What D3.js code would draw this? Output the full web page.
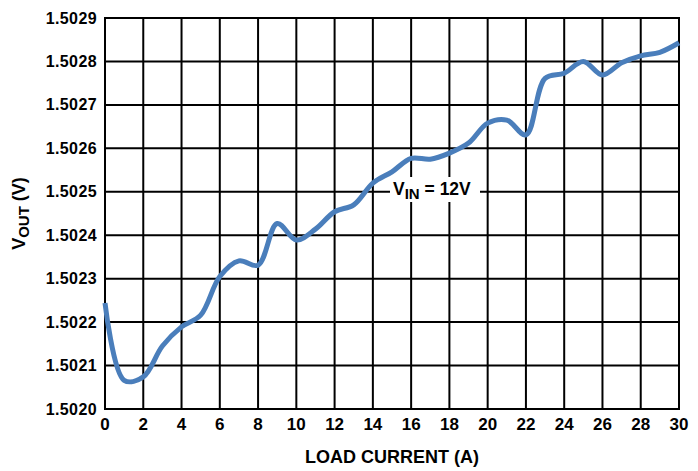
<!DOCTYPE html>
<html>
<head>
<meta charset="utf-8">
<script src="https://cdn.jsdelivr.net/npm/d3@7"></script>
<style>
  html, body { margin: 0; padding: 0; background: #fff; }
  svg { display: block; }
  text { font-family: "Liberation Sans", Arial, Helvetica, sans-serif; font-weight: bold; fill: #000; }
</style>
</head>
<body>
<svg id="chart" width="698" height="471"></svg>
<script>
const loadCurrent = [0,1,2,3,4,5,6,7,8,9,10,11,12,13,14,15,16,17,18,19,20,21,22,23,24,25,26,27,28,29,30];
const vout = [1.502244,1.502066,1.502074,1.502145,1.502189,1.502216,1.502305,1.502341,1.502331,1.502427,
              1.502389,1.502414,1.502454,1.502470,1.502520,1.502546,1.502577,1.502575,1.502589,1.502612,
              1.502658,1.502665,1.502631,1.502761,1.502773,1.502800,1.502769,1.502797,1.502813,1.502821,1.502843];
const xTicks = [0,2,4,6,8,10,12,14,16,18,20,22,24,26,28,30];
const yTicks = [1.5020,1.5021,1.5022,1.5023,1.5024,1.5025,1.5026,1.5027,1.5028,1.5029];
const xTitle = "LOAD CURRENT (A)";
const annotation = "= 12V";

(function () {
const svg = d3.select("#chart");
const pL = 105, pR = 679, pT = 18, pB = 409;
const x = d3.scaleLinear().domain([0, 30]).range([pL, pR]);
const y = d3.scaleLinear().domain([1.5020, 1.5029]).range([pB, pT]);

// gridlines
const g = svg.append("g");
g.selectAll(".vg").data(xTicks).join("line")
  .attr("x1", d => x(d)).attr("x2", d => x(d))
  .attr("y1", pT).attr("y2", pB)
  .attr("stroke", "#000").attr("stroke-width", 2);
g.selectAll(".hg").data(yTicks).join("line")
  .attr("x1", pL).attr("x2", pR)
  .attr("y1", d => y(d)).attr("y2", d => y(d))
  .attr("stroke", "#000").attr("stroke-width", 2);
svg.append("rect").attr("x", pL).attr("y", pT)
  .attr("width", pR - pL).attr("height", pB - pT)
  .attr("fill", "none").attr("stroke", "#000").attr("stroke-width", 2);

// tick labels
svg.selectAll(".yl").data(yTicks).join("text")
  .attr("x", pL - 8).attr("y", d => y(d)).attr("dy", "0.35em")
  .attr("text-anchor", "end").style("font-size", "16px").style("letter-spacing", "0.4px")
  .text(d => d.toFixed(4));
svg.selectAll(".xl").data(xTicks).join("text")
  .attr("x", d => x(d)).attr("y", 430)
  .attr("text-anchor", "middle").style("font-size", "17px")
  .text(d => d);

// axis titles
svg.append("text").attr("x", (pL + pR) / 2).attr("y", 463)
  .attr("text-anchor", "middle").style("font-size", "18px").text(xTitle);
const yt = svg.append("text")
  .attr("transform", `translate(25,${(pT + pB) / 2}) rotate(-90)`)
  .attr("text-anchor", "middle").style("font-size", "18px");
yt.append("tspan").text("V");
yt.append("tspan").attr("dy", 4).style("font-size", "15px").text("OUT");
yt.append("tspan").attr("dy", -4).text(" (V)");

// curve
const line = d3.line().x((d, i) => x(loadCurrent[i])).y(d => y(d)).curve(d3.curveCatmullRom.alpha(0.5));
svg.append("path").datum(vout).attr("d", line)
  .attr("fill", "none").attr("stroke", "#4a7ebb").attr("stroke-width", 5)
  .attr("stroke-linejoin", "round");

// annotation
svg.append("rect").attr("x", 390).attr("y", 177).attr("width", 90).attr("height", 25).attr("fill", "#fff");
const at = svg.append("text").attr("x", 393).attr("y", 195).style("font-size", "17.5px");
at.append("tspan").text("V");
at.append("tspan").attr("dy", 4).style("font-size", "15px").text("IN");
at.append("tspan").attr("dy", -4).text(" " + annotation);
})();
</script>
</body>
</html>
